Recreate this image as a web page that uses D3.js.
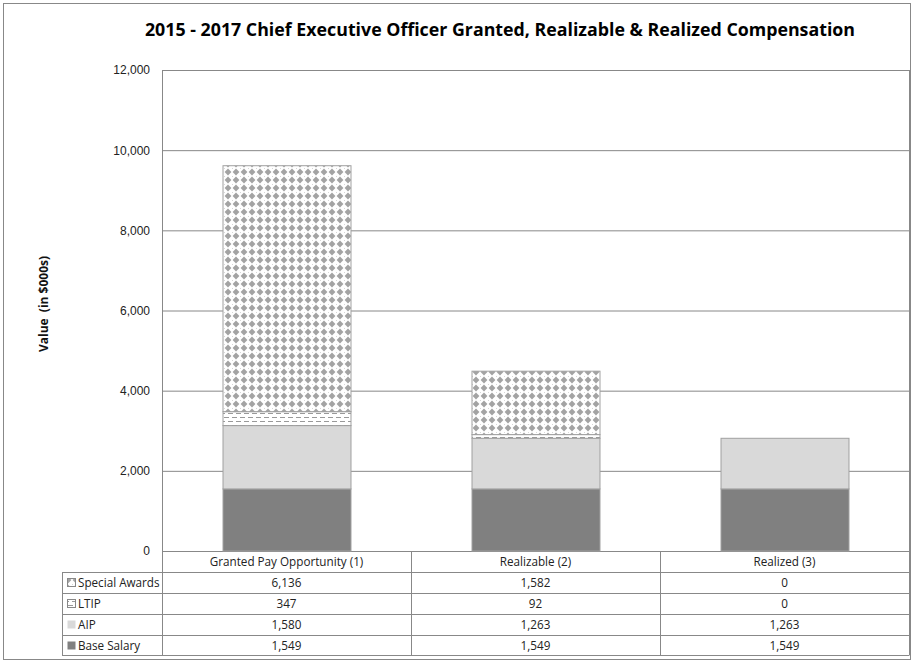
<!DOCTYPE html>
<html><head><meta charset="utf-8">
<script src="https://cdn.jsdelivr.net/npm/d3@7/dist/d3.min.js"></script>
<style>body{margin:0;background:#fff;}svg{display:block;font-family:"Open Sans","DejaVu Sans",sans-serif;}</style>
</head><body><svg id="c" width="915" height="660"></svg>
<script>
const categories = ["Granted Pay Opportunity (1)", "Realizable (2)", "Realized (3)"];
const seriesNames = ["Base Salary", "AIP", "LTIP", "Special Awards"];
const baseSalary = [1549, 1549, 1549];
const aip = [1580, 1263, 1263];
const ltip = [347, 92, 0];
const specialAwards = [6136, 1582, 0];
const yTicks = [0, 2000, 4000, 6000, 8000, 10000, 12000];

const seriesValues = [baseSalary, aip, ltip, specialAwards];
const svg = d3.select("#c");
const defs = svg.append("defs");

// diamond pattern
const pd = defs.append("pattern").attr("id","diam").attr("patternUnits","userSpaceOnUse").attr("width",8).attr("height",8);
pd.append("rect").attr("width",8).attr("height",8).attr("fill","#fff");
pd.append("path").attr("d","M4,0.6 L7.4,4 L4,7.4 L0.6,4 Z").attr("fill","#a3a3a3");
pd.append("rect").attr("x",0).attr("y",0).attr("width",1).attr("height",1).attr("fill","#d8d8d8");
// dashed pattern
const pl = defs.append("pattern").attr("id","dash").attr("patternUnits","userSpaceOnUse").attr("width",8).attr("height",8);
pl.append("rect").attr("width",8).attr("height",8).attr("fill","#fff");
pl.append("rect").attr("x",0).attr("y",1).attr("width",5).attr("height",1).attr("fill","#999");
pl.append("rect").attr("x",4).attr("y",5).attr("width",5).attr("height",1).attr("fill","#999");
pl.append("rect").attr("x",-4).attr("y",5).attr("width",5).attr("height",1).attr("fill","#999");

const fills = ["#808080", "#d9d9d9", "url(#dash)", "url(#diam)"];

const L = 162, R = 909, T = 70, B = 551;
const x = d3.scaleBand().domain(categories).range([L, R]).paddingInner(0.486).paddingOuter(0.243);
const xc = d3.scaleBand().domain(categories).range([L, R]);
const y = d3.scaleLinear().domain([0, 12000]).range([B, T]);

// outer border
svg.append("rect").attr("x",3.5).attr("y",3.5).attr("width",907).attr("height",656).attr("fill","none").attr("stroke","#888");

// title
svg.append("text").attr("x",500).attr("y",36).attr("text-anchor","middle")
  .style("font-family","'Open Sans','DejaVu Sans',sans-serif").style("font-weight","bold").style("font-size","17.8px")
  .text("2015 - 2017 Chief Executive Officer Granted, Realizable & Realized Compensation");

// gridlines
const yAxis = d3.axisLeft(y).tickValues(yTicks).tickFormat(d3.format(",")).tickSize(-(R-L)).tickPadding(12);
const ga = svg.append("g").attr("transform",`translate(${L},0)`).call(yAxis);
ga.select(".domain").attr("stroke","#888");
ga.selectAll(".tick line").attr("stroke","#888");
ga.selectAll(".tick text").style("font-size","12px").attr("fill","#222");
// right edge of plot
svg.append("line").attr("x1",R+0.5).attr("x2",R+0.5).attr("y1",T).attr("y2",B).attr("stroke","#888");

// axis title
svg.append("text").attr("transform","translate(48,304) rotate(-90)").attr("text-anchor","middle")
  .style("font-weight","bold").style("font-size","12px").style("white-space","pre").attr("fill","#111").text("Value  (in $000s)");

// stacked bars
const rows = categories.map((c,i)=>{const o={cat:c}; seriesNames.forEach((s,j)=>o[s]=seriesValues[j][i]); return o;});
const stack = d3.stack().keys(seriesNames)(rows);
stack.forEach((layer,j)=>{
  svg.append("g").selectAll("rect").data(layer.filter(d=>d[1]-d[0]>0)).join("rect")
    .attr("x",d=>x(d.data.cat)+0.5).attr("width",x.bandwidth())
    .attr("y",d=>y(d[1])).attr("height",d=>y(d[0])-y(d[1]))
    .attr("fill",fills[j]).attr("stroke","#a0a0a0").attr("stroke-width",1);
});

// data table
const rowH = 21;
const tTop = B;
const tg = svg.append("g");
const lineC = "#888";
const fs = "11.7px";
categories.forEach((c,i)=>{
  tg.append("text").attr("x",xc(c)+xc.bandwidth()/2).attr("y",tTop+15).attr("text-anchor","middle")
    .style("font-size",fs).attr("fill","#222").text(c);
});
const tableRows = ["Special Awards","LTIP","AIP","Base Salary"];
const tableBottom = tTop + rowH*5 - 1;
for(let r=1;r<=5;r++){
  const yy = Math.round(tTop + rowH*r - (r===5?1:0)) + 0.5;
  tg.append("line").attr("x1",62).attr("x2",R).attr("y1",yy).attr("y2",yy).attr("stroke",lineC);
}
[L, ...categories.map(c=>xc(c)+xc.bandwidth()), ...categories.slice(1).map(c=>xc(c))].forEach(xx=>{
  tg.append("line").attr("x1",Math.round(xx)+0.5).attr("x2",Math.round(xx)+0.5).attr("y1",tTop).attr("y2",tableBottom+0.5).attr("stroke",lineC);
});
tg.append("line").attr("x1",62.5).attr("x2",62.5).attr("y1",tTop+rowH+0.5).attr("y2",tableBottom+0.5).attr("stroke",lineC);

const fmt = d3.format(",");
tableRows.forEach((name,r)=>{
  const j = seriesNames.indexOf(name);
  const ry = tTop + rowH*(r+1);
  tg.append("rect").attr("x",67.5).attr("y",ry+6.5).attr("width",8).attr("height",8)
    .attr("fill",fills[j]).attr("stroke",j<2?"none":"#888");
  tg.append("text").attr("x",78).attr("y",ry+15).style("font-size",fs).attr("fill","#222").text(name);
  categories.forEach((c,i)=>{
    tg.append("text").attr("x",xc(c)+xc.bandwidth()/2).attr("y",ry+15).attr("text-anchor","middle")
      .style("font-size",fs).attr("fill","#222").text(fmt(seriesValues[j][i]));
  });
});
</script></body></html>
